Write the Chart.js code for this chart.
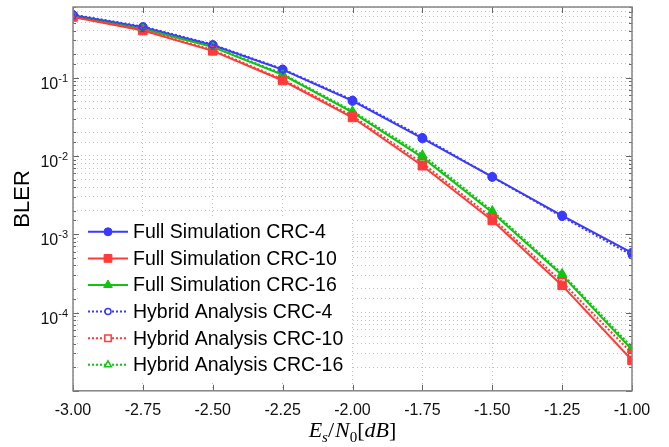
<!DOCTYPE html>
<html>
<head>
<meta charset="utf-8">
<script src="https://cdn.jsdelivr.net/npm/chart.js@4"></script>
<style>
html, body { margin: 0; padding: 0; background: #fff; }
</style>
</head>
<body>
<canvas id="bler_plot" width="669" height="447"></canvas>
<script>
// Es/N0 in dB
var ebno = [-3.00, -2.75, -2.50, -2.25, -2.00, -1.75, -1.50, -1.25, -1.00];

// BLER, full simulation
var fullCrc4  = [0.630, 0.440, 0.260, 0.127, 0.0505, 0.0168, 0.0054, 0.00173, 0.00058];
var fullCrc10 = [0.595, 0.400, 0.220, 0.092, 0.0310, 0.0075, 0.00150, 0.000222, 0.0000245];
var fullCrc16 = [0.620, 0.420, 0.246, 0.109, 0.0360, 0.0096, 0.00190, 0.000300, 0.0000335];

// BLER, hybrid analysis
var hybCrc4  = [0.640, 0.450, 0.265, 0.129, 0.0520, 0.0174, 0.0054, 0.00167, 0.00054];
var hybCrc10 = [0.600, 0.410, 0.226, 0.095, 0.0325, 0.0081, 0.00162, 0.000245, 0.0000300];
var hybCrc16 = [0.630, 0.430, 0.252, 0.112, 0.0375, 0.0103, 0.00200, 0.000315, 0.0000360];

var seriesLabels = [
    "Full Simulation CRC-4",
    "Full Simulation CRC-10",
    "Full Simulation CRC-16",
    "Hybrid Analysis CRC-4",
    "Hybrid Analysis CRC-10",
    "Hybrid Analysis CRC-16"
];

var xMin = -3, xMax = -1, xStep = 0.25;
var yMin = 1e-5, yMax = 0.8;
var yLabelExps = [-1, -2, -3, -4];

var BLUE = "#3a3aff", RED = "#ff3a3a", GREEN = "#12c412";

function pts(arr) {
    return ebno.map(function (x, i) { return { x: x, y: arr[i] }; });
}

function fullSet(label, arr, color, style, r) {
    return {
        label: label, data: pts(arr),
        borderColor: color, backgroundColor: color,
        borderWidth: 2, pointStyle: style, pointRadius: r,
        pointBackgroundColor: color, pointBorderColor: color, pointBorderWidth: 1,
        fill: false, tension: 0, order: 2
    };
}

function hybSet(label, arr, color, style, r) {
    return {
        label: label, data: pts(arr),
        borderColor: color, backgroundColor: "#fff",
        borderWidth: 2, borderDash: [2, 2], pointStyle: style, pointRadius: r,
        pointBackgroundColor: "rgba(255,255,255,0)", pointBorderColor: color, pointBorderWidth: 1.5,
        fill: false, tension: 0, order: 1
    };
}

function drawMarker(ctx, style, x, y, r, fill, stroke, lw) {
    ctx.beginPath();
    if (style === "circle") {
        ctx.arc(x, y, r, 0, Math.PI * 2);
    } else if (style === "rect") {
        var s = Math.SQRT1_2 * r;
        ctx.rect(x - s, y - s, 2 * s, 2 * s);
    } else {
        ctx.moveTo(x, y - r);
        ctx.lineTo(x + r * 0.866, y + r * 0.5);
        ctx.lineTo(x - r * 0.866, y + r * 0.5);
        ctx.closePath();
    }
    if (fill) { ctx.fillStyle = fill; ctx.fill(); }
    ctx.setLineDash([]);
    ctx.lineWidth = lw;
    ctx.strokeStyle = stroke;
    ctx.stroke();
}

var decor = {
    id: "decor",
    afterDraw: function (chart) {
        var ctx = chart.ctx, a = chart.chartArea;
        var xs = chart.scales.x, ys = chart.scales.y;
        ctx.save();

        // inward tick marks, matlab style
        ctx.strokeStyle = "#666";
        ctx.lineWidth = 1;
        ctx.setLineDash([]);
        ys.ticks.forEach(function (t) {
            var lg = Math.log10(t.value);
            var major = Math.abs(lg - Math.round(lg)) < 1e-6;
            var len = major ? 6 : 3;
            var y = Math.round(ys.getPixelForValue(t.value)) + 0.5;
            ctx.beginPath();
            ctx.moveTo(a.left, y); ctx.lineTo(a.left + len, y);
            ctx.moveTo(a.right, y); ctx.lineTo(a.right - len, y);
            ctx.stroke();
        });
        xs.ticks.forEach(function (t) {
            var x = Math.round(xs.getPixelForValue(t.value)) + 0.5;
            ctx.beginPath();
            ctx.moveTo(x, a.bottom); ctx.lineTo(x, a.bottom - 6);
            ctx.moveTo(x, a.top); ctx.lineTo(x, a.top + 6);
            ctx.stroke();
        });

        // box
        ctx.strokeStyle = "#858585";
        ctx.lineWidth = 1.5;
        ctx.strokeRect(a.left, a.top, a.right - a.left, a.bottom - a.top);

        // y tick labels 10^n
        ctx.fillStyle = "#111";
        ctx.textBaseline = "alphabetic";
        yLabelExps.forEach(function (e) {
            var y = ys.getPixelForValue(Math.pow(10, e));
            var exp = "-" + Math.abs(e);
            ctx.font = "11px 'Liberation Sans', Arial, sans-serif";
            var ew = ctx.measureText(exp).width;
            ctx.textAlign = "left";
            ctx.fillText(exp, a.left - 5 - ew, y + 4);
            ctx.font = "16px 'Liberation Sans', Arial, sans-serif";
            ctx.textAlign = "right";
            ctx.fillText("10", a.left - 5 - ew, y + 11);
        });

        // y title
        ctx.save();
        ctx.translate(23, (a.top + a.bottom) / 2);
        ctx.rotate(-Math.PI / 2);
        ctx.font = "22px 'Liberation Sans', Arial, sans-serif";
        ctx.textAlign = "center";
        ctx.textBaseline = "middle";
        ctx.fillStyle = "#000";
        ctx.fillText("BLER", 0, 0);
        ctx.restore();

        // x title: E_s/N_0[dB]
        var serif = "'Liberation Serif', 'DejaVu Serif', serif";
        var parts = [
            ["E", "italic", 22, 0], ["s", "italic", 15, 5], ["/", "", 22, 0],
            ["N", "italic", 22, 0], ["0", "", 15, 5], ["[", "", 22, 0],
            ["d", "italic", 22, 0], ["B", "italic", 22, 0], ["]", "", 22, 0]
        ];
        var total = 0;
        parts.forEach(function (p) {
            ctx.font = p[1] + " " + p[2] + "px " + serif;
            p.push(ctx.measureText(p[0]).width + (p[0] === "/" ? 1 : 0));
            total += p[4];
        });
        var cx = (a.left + a.right) / 2 - total / 2;
        ctx.textAlign = "left";
        ctx.fillStyle = "#000";
        parts.forEach(function (p) {
            ctx.font = p[1] + " " + p[2] + "px " + serif;
            ctx.fillText(p[0], cx, 437 + p[3]);
            cx += p[4];
        });

        // legend, lower left inside the axes
        var lx = a.left + 7, ly = a.bottom - 174, lw = 272, lh = 163;
        ctx.fillStyle = "#fff";
        ctx.fillRect(lx, ly, lw, lh);
        chart.data.datasets.forEach(function (ds, i) {
            var y = ly + 15 + i * 26.6;
            var x0 = lx + 8, x1 = lx + 48;
            ctx.strokeStyle = ds.borderColor;
            ctx.lineWidth = 2;
            ctx.setLineDash(ds.borderDash || []);
            ctx.beginPath(); ctx.moveTo(x0, y); ctx.lineTo(x1, y); ctx.stroke();
            var hollow = !!ds.borderDash;
            drawMarker(ctx, ds.pointStyle, (x0 + x1) / 2, y,
                ds.pointRadius - 0.5,
                hollow ? "#fff" : ds.borderColor, ds.borderColor, hollow ? 1.5 : 1);
            ctx.font = "19.5px 'Liberation Sans', Arial, sans-serif";
            ctx.fillStyle = "#000";
            ctx.textAlign = "left";
            ctx.textBaseline = "middle";
            ctx.fillText(ds.label, x1 + 5, y + 1);
        });
        ctx.restore();
    }
};

new Chart(document.getElementById("bler_plot"), {
    type: "line",
    data: {
        datasets: [
            fullSet(seriesLabels[0], fullCrc4, BLUE, "circle", 4.5),
            fullSet(seriesLabels[1], fullCrc10, RED, "rect", 6),
            fullSet(seriesLabels[2], fullCrc16, GREEN, "triangle", 5.5),
            hybSet(seriesLabels[3], hybCrc4, BLUE, "circle", 3.5),
            hybSet(seriesLabels[4], hybCrc10, RED, "rect", 5),
            hybSet(seriesLabels[5], hybCrc16, GREEN, "triangle", 4.5)
        ]
    },
    options: {
        responsive: false,
        animation: false,
        devicePixelRatio: 1,
        layout: { padding: { left: 73, right: 37, top: 5, bottom: 17 } },
        plugins: {
            legend: { display: false },
            title: { display: false },
            tooltip: { enabled: false }
        },
        scales: {
            x: {
                type: "linear",
                min: xMin, max: xMax,
                ticks: {
                    stepSize: xStep,
                    padding: 10,
                    color: "#111",
                    font: { family: "'Liberation Sans', Arial, sans-serif", size: 16 },
                    callback: function (v) { return Number(v).toFixed(2); }
                },
                grid: { color: "rgba(0,0,0,0.24)", lineWidth: 1, drawTicks: false },
                border: { display: false, dash: [1, 3] }
            },
            y: {
                type: "logarithmic",
                min: yMin, max: yMax,
                ticks: { display: false },
                grid: { color: "rgba(0,0,0,0.24)", lineWidth: 1, drawTicks: false },
                border: { display: false, dash: [1, 3] }
            }
        }
    },
    plugins: [decor]
});
</script>
</body>
</html>
